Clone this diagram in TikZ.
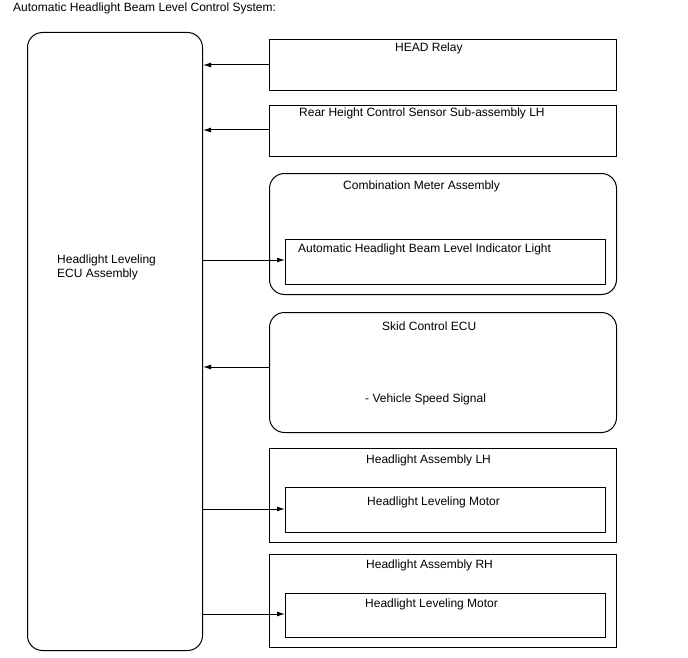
\documentclass[tikz,border=0pt]{standalone}
\usepackage{fontspec}
\setmainfont{Liberation Sans}
\usetikzlibrary{arrows.meta}
\begin{document}
\begin{tikzpicture}[x=1pt,y=-1pt,
  box/.style={draw=black,line width=1pt,inner sep=0pt,anchor=north west},
  rbox/.style={box,rounded corners=15pt},
  lbl/.style={anchor=base west,inner sep=0pt,font=\fontsize{12pt}{14pt}\selectfont},
  arr/.style={line width=1pt,-{Latex[length=8pt,width=5pt]}}]
\useasboundingbox (0,0) rectangle (688,658);
\node[lbl] (title) at (13,11.5) {Automatic Headlight Beam Level Control System:};
% ECU
\node[rbox,minimum width=175pt,minimum height=618pt] (ecu) at (27,32) {};
\node[lbl] (ecut1) at (57,263) {Headlight Leveling};
\node[lbl] (ecut2) at (57,277) {ECU Assembly};
% HEAD relay
\node[box,minimum width=347pt,minimum height=51pt] (head) at (269,39) {};
\node[lbl] (headt) at (395,52) {HEAD Relay};
% Rear height
\node[box,minimum width=347pt,minimum height=51pt] (rear) at (269,105) {};
\node[lbl] (reart) at (299,117) {Rear Height Control Sensor Sub-assembly LH};
% Combination meter
\node[rbox,minimum width=347pt,minimum height=121pt] (comb) at (269,173) {};
\node[lbl] (combt) at (343,189) {Combination Meter Assembly};
\node[box,minimum width=320pt,minimum height=45pt] (ind) at (285,239) {};
\node[lbl] (indt) at (298,252) {Automatic Headlight Beam Level Indicator Light};
% Skid control
\node[rbox,minimum width=347pt,minimum height=120pt] (skid) at (269,312) {};
\node[lbl] (skidt) at (382,330) {Skid Control ECU};
\node[lbl] (skids) at (365,402) {- Vehicle Speed Signal};
% Headlight LH
\node[box,minimum width=347pt,minimum height=94pt] (hlh) at (269,448) {};
\node[lbl] (hlht) at (366,463) {Headlight Assembly LH};
\node[box,minimum width=320pt,minimum height=45pt] (mlh) at (285,487) {};
\node[lbl] (mlht) at (367,505) {Headlight Leveling Motor};
% Headlight RH
\node[box,minimum width=347pt,minimum height=93pt] (hrh) at (269,554) {};
\node[lbl] (hrht) at (366,568) {Headlight Assembly RH};
\node[box,minimum width=320pt,minimum height=44pt] (mrh) at (285,593) {};
\node[lbl] (mrht) at (365,607) {Headlight Leveling Motor};
% connectors
\draw[arr] (head.west |- 0,65) -- (ecu.east |- 0,65);
\draw[arr] (rear.west |- 0,130) -- (ecu.east |- 0,130);
\draw[arr] (ecu.east |- 0,260) -- (ind.west |- 0,260);
\draw[arr] (skid.west |- 0,367) -- (ecu.east |- 0,367);
\draw[arr] (ecu.east |- 0,509) -- (mlh.west |- 0,509);
\draw[arr] (ecu.east |- 0,614) -- (mrh.west |- 0,614);
\end{tikzpicture}
\end{document}
